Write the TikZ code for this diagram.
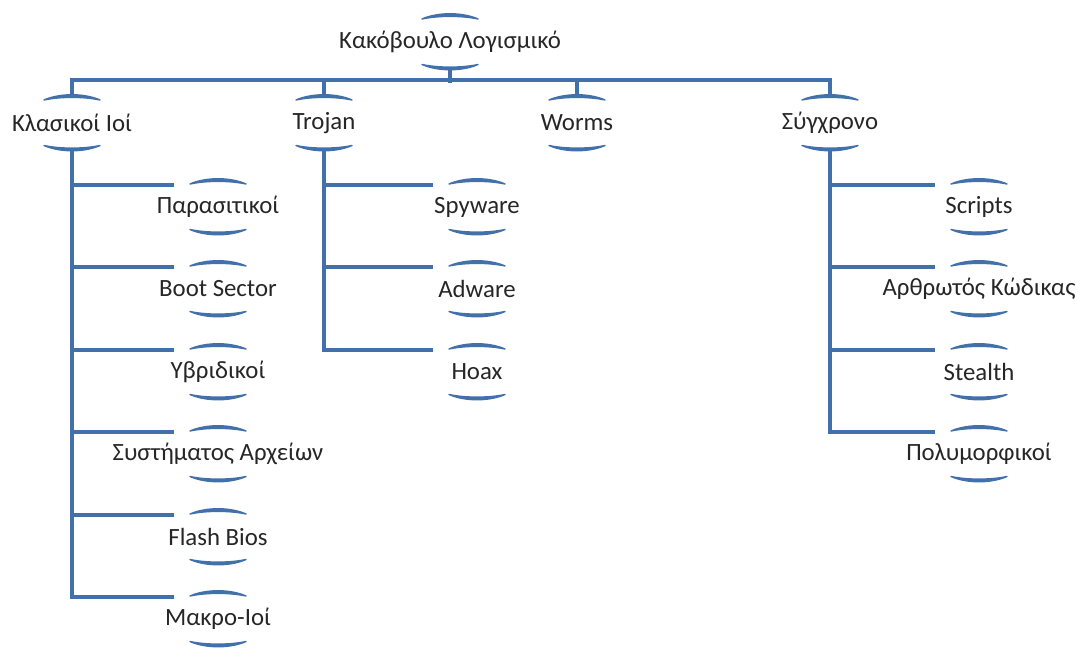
\documentclass[tikz,border=0pt]{standalone}
\usepackage{fontspec}
\setmainfont{Carlito}
\usetikzlibrary{calc}
\definecolor{lineblue}{RGB}{66,112,170}
\begin{document}
\begin{tikzpicture}[x=1pt,y=-1pt,
  lbl/.style={inner sep=0pt,font=\fontsize{24.8}{28}\selectfont,text=black!85},
  conn/.style={draw=lineblue,line width=3.6pt},
  brk/.style={fill=lineblue,draw=lineblue,line width=1.4pt,line join=round}]
\useasboundingbox (0,0) rectangle (1077,652);
% nodes
\node[lbl] (root) at (450,42) {Κακόβουλο Λογισμικό};
\node[lbl] (k) at (72,123) {Κλασικοί Ιοί};
\node[lbl] (t) at (324,123) {Trojan};
\node[lbl] (w) at (577,123) {Worms};
\node[lbl] (s) at (830,123) {Σύγχρονο};
\node[lbl] (k1) at (218,207) {Παρασιτικοί};
\node[lbl] (k2) at (218,289) {Boot Sector};
\node[lbl] (k3) at (218,372) {Υβριδικοί};
\node[lbl] (k4) at (218,454) {Συστήματος Αρχείων};
\node[lbl] (k5) at (218,537) {Flash Bios};
\node[lbl] (k6) at (218,619) {Μακρο-Ιοί};
\node[lbl] (t1) at (477,207) {Spyware};
\node[lbl] (t2) at (477,289) {Adware};
\node[lbl] (t3) at (477,372) {Hoax};
\node[lbl] (s1) at (979,207) {Scripts};
\node[lbl] (s2) at (979,289) {Αρθρωτός Κώδικας};
\node[lbl] (s3) at (979,372) {Stealth};
\node[lbl] (s4) at (979,454) {Πολυμορφικοί};
% brackets and anchor coordinates
\foreach \n in {root,k,t,w,s,k1,k2,k3,k4,k5,k6,t1,t2,t3,s1,s2,s3,s4}{
  \path[brk] ($(\n.center)+(-28,-23)$) .. controls ($(\n.center)+(-12,-30)$) and ($(\n.center)+(12,-30)$) .. ($(\n.center)+(28,-23)$)
     .. controls ($(\n.center)+(12,-26.5)$) and ($(\n.center)+(-12,-26.5)$) .. cycle;
  \path[brk] ($(\n.center)+(-28,22.5)$) .. controls ($(\n.center)+(-12,29.5)$) and ($(\n.center)+(12,29.5)$) .. ($(\n.center)+(28,22.5)$)
     .. controls ($(\n.center)+(12,26)$) and ($(\n.center)+(-12,26)$) .. cycle;
  \coordinate (\n-top) at ($(\n.center)+(0,-28)$);
  \coordinate (\n-bot) at ($(\n.center)+(0,27)$);
  \coordinate (\n-in) at ($(\n.center)+(-44,-22)$);
}
% level 1 connectors
\draw[conn] (root-bot) -- ++(0,14);
\draw[conn] (k-top) -- ++(0,-15) -| (s-top);
\draw[conn] (t-top) -- ++(0,-15);
\draw[conn] (w-top) -- ++(0,-15);
% level 2 connectors
\foreach \c in {k1,k2,k3,k4,k5,k6}{\draw[conn] (k-bot) |- (\c-in);}
\foreach \c in {t1,t2,t3}{\draw[conn] (t-bot) |- (\c-in);}
\foreach \c in {s1,s2,s3,s4}{\draw[conn] (s-bot) |- (\c-in);}
\end{tikzpicture}
\end{document}
